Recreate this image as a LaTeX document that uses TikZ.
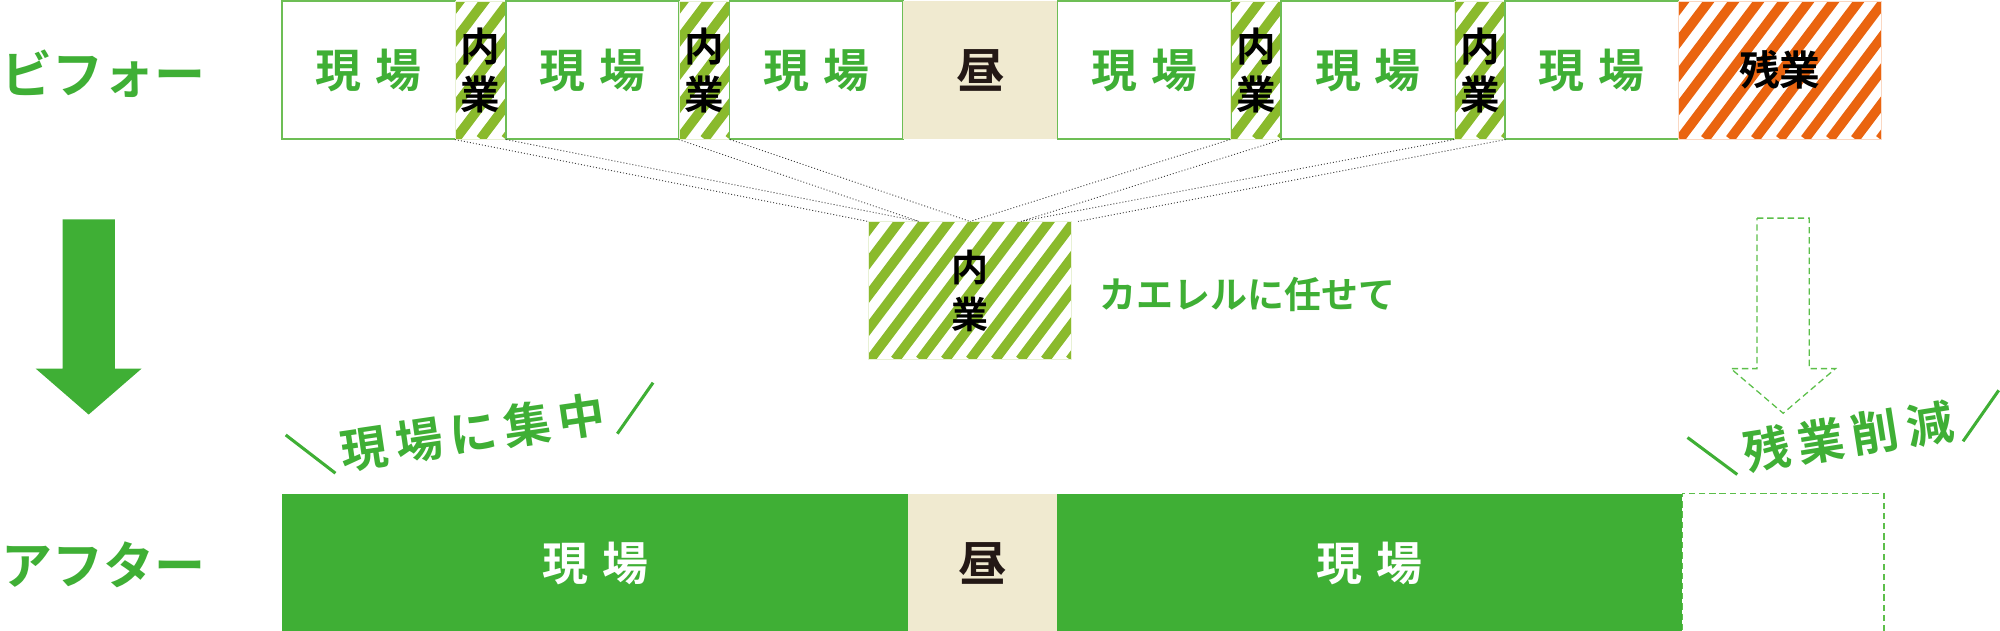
\documentclass[tikz,border=0pt]{standalone}
\usepackage{fontspec}
\setmainfont{Noto Sans CJK JP}[BoldFont={Noto Sans CJK JP Bold}]
\usetikzlibrary{calc}
\definecolor{mg}{HTML}{3FAF35}
\definecolor{sg}{HTML}{8ABA2C}
\definecolor{og}{HTML}{EA640F}
\definecolor{cr}{HTML}{F0EAD0}
\definecolor{bd}{HTML}{6DBE55}
\definecolor{dk}{HTML}{231815}
\definecolor{dg}{HTML}{5CBF4A}
\tikzset{
  fsz/.style={font=\fontsize{#1}{#1}\selectfont\bfseries},
  cell/.style={rectangle, inner sep=0pt, minimum height=108pt},
  stripes/.style={path picture={
      \foreach \k in {-11,...,6}{
        \draw[#1, line width=7.6pt] ([xshift=\k*19.6pt]path picture bounding box.south) -- ++(120pt,159.2pt);}}},
  site/.style={cell, draw=bd, line width=1.3pt, fill=white, text=mg, fsz=36, minimum width=136pt},
  inner/.style={cell, stripes=sg, draw=sg!20, line width=0.8pt, minimum width=39.5pt, align=center, text=black,
      font=\fontsize{31}{37.5}\selectfont\bfseries},
  lunch/.style={cell, fill=cr, text=dk, fsz=38},
  bsite/.style={rectangle, inner sep=0pt, minimum height=110pt, fill=mg, text=white, fsz=36},
  lbl/.style={text=mg, fsz=40, inner sep=0pt},
  tag/.style={text=mg, fsz=37, inner sep=0pt, rotate=#1},
  conn/.style={draw=black!75, line width=0.7pt, dash pattern=on 0.8pt off 1.6pt},
  slash/.style={draw=mg, line width=2.4pt},
  dasharrow/.style={draw=dg, line width=1pt, dash pattern=on 5pt off 3pt},
}
\begin{document}
\begin{tikzpicture}[x=1pt, y=-1pt]
\useasboundingbox (0,0) rectangle (1568,494.7);

% before row
\node[site]  (g1) at (289,55) {現\hspace{11pt}場};
\node[inner] (n1) at (376.75,55) {内\\業};
\node[site]  (g2) at (464.5,55) {現\hspace{11pt}場};
\node[inner] (n2) at (552.25,55) {内\\業};
\node[site]  (g3) at (640,55) {現\hspace{11pt}場};
\node[lunch, minimum width=121pt] (l1) at (768.5,55) {昼};
\node[site]  (g4) at (897,55) {現\hspace{11pt}場};
\node[inner] (n3) at (984.75,55) {内\\業};
\node[site]  (g5) at (1072.5,55) {現\hspace{11pt}場};
\node[inner] (n4) at (1160.25,55) {内\\業};
\node[site]  (g6) at (1248,55) {現\hspace{11pt}場};
\node[cell, stripes=og, draw=og!25, line width=0.8pt, minimum width=159pt, text=black, fsz=32] (ov) at (1395.5,55) {残業};

% middle box
\node[inner, minimum width=159pt, font=\fontsize{29}{36.5}\selectfont\bfseries] (mid) at (760.5,228) {内\\業};
\node[text=mg, fsz=29, inner sep=0pt, anchor=west] (kaeru) at (862,231) {カエレルに任せて};

% dotted connectors
\foreach \a/\f in {n1.south west/0, n1.south east/0.25, n2.south west/0.25, n2.south east/0.5,
                   n3.south west/0.5, n3.south east/0.75, n4.south west/0.75, n4.south east/1.03}
  \draw[conn] (\a) -- ($(mid.north west)!\f!(mid.north east)$);

% labels
\node[lbl, anchor=west] (before) at (1,58) {ビフォー};
\node[lbl, anchor=west] (after) at (1,443) {アフター};

% big arrow
\fill[mg] (49,172) -- (90,172) -- (90,289) -- (111,289) -- (69.5,325) -- (28,289) -- (49,289) -- cycle;
% dashed arrow
\draw[dasharrow] (1377.5,171) -- (1418.5,171) -- (1418.5,289) -- (1439,289) -- (1398,324) -- (1357,289) -- (1377.5,289) -- cycle;

% after row
\node[bsite, minimum width=491pt] (b1) at (466.5,442) {現\hspace{11pt}場};
\node[rectangle, inner sep=0pt, minimum height=110pt, fill=cr, text=dk, fsz=38, minimum width=117pt] (l2) at (770.5,442) {昼};
\node[bsite, minimum width=490pt] (b2) at (1074,442) {現\hspace{11pt}場};
\node[rectangle, inner sep=0pt, minimum height=110pt, minimum width=158pt, dasharrow] (bov) at (1398,442) {};

% tags
\node[tag=8.4] (focus) at (371,339) {現\hspace{6pt}場\hspace{6pt}に\hspace{6pt}集\hspace{6pt}中};
\draw[slash] (224,341) -- (263,371);
\draw[slash] (512,300) -- (484,340);
\node[tag=9] (cut) at (1449,342) {残\hspace{6pt}業\hspace{6pt}削\hspace{6pt}減};
\draw[slash] (1323,343) -- (1362,372);
\draw[slash] (1539,346) -- (1567,306);
\end{tikzpicture}
\end{document}
